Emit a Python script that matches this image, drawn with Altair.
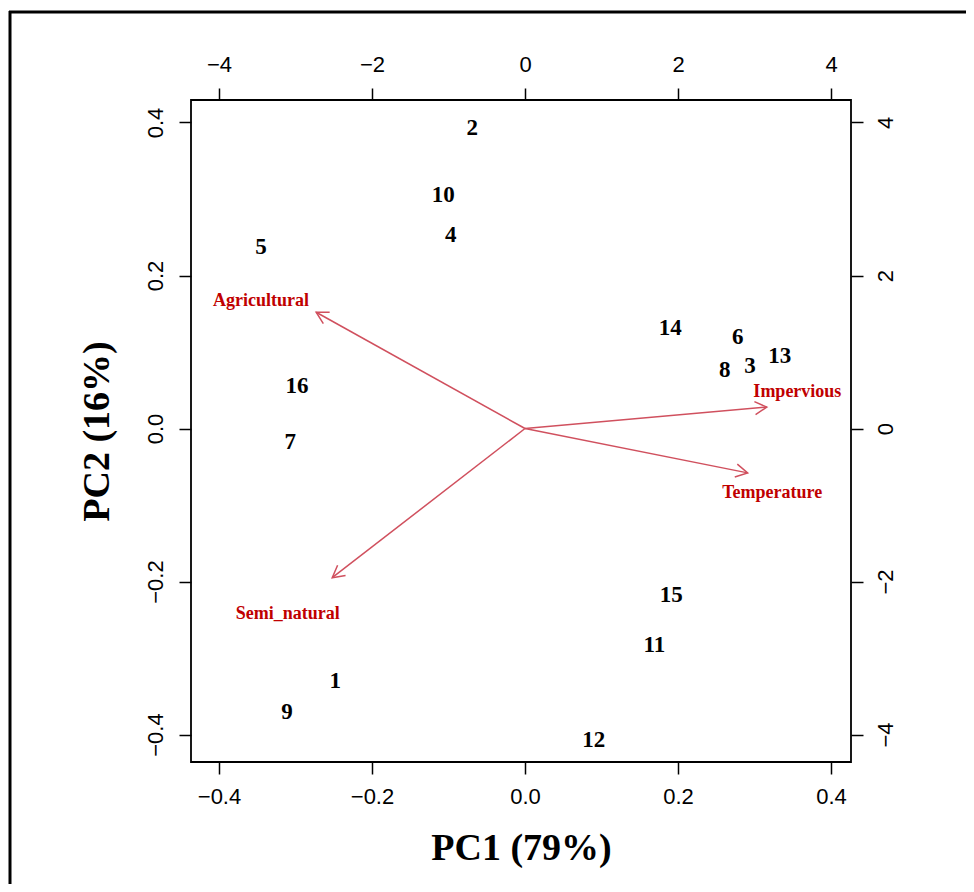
import altair as alt
import pandas as pd
import numpy as np

# ---- data ----
sample_ids = ["1", "2", "3", "4", "5", "6", "7", "8", "9", "10", "11", "12", "13", "14", "15", "16"]
score_pc1 = [-2.48, -0.69, 2.94, -0.97, -3.45, 2.78, -3.07, 2.61, -3.11, -1.07, 1.69, 0.90, 3.33, 1.90, 1.91, -2.98]
score_pc2 = [-3.30, 3.93, 0.82, 2.53, 2.37, 1.20, -0.18, 0.76, -3.71, 3.05, -2.83, -4.07, 0.95, 1.31, -2.17, 0.56]

variables = ["Impervious", "Temperature", "Agricultural", "Semi_natural"]
load_pc1 = [0.316, 0.291, -0.273, -0.252]
load_pc2 = [0.028, -0.058, 0.152, -0.195]
label_pc1 = [0.356, 0.323, -0.345, -0.310]
label_pc2 = [0.048, -0.084, 0.167, -0.242]

bottom_ticks = [-0.4, -0.2, 0.0, 0.2, 0.4]
left_ticks = [-0.4, -0.2, 0.0, 0.2, 0.4]
top_ticks = [-4, -2, 0, 2, 4]
right_ticks = [-4, -2, 0, 2, 4]

x_dom = [-0.4366, 0.4261]
y_dom = [-0.4359, 0.4294]
x_dom_top = [-4.366, 4.261]
y_dom_right = [-4.359, 4.294]

W, H = 660, 662
PAD = {"left": 183, "top": 92, "right": 115, "bottom": 122}

TICK_FONT = "Liberation Sans Narrow, Liberation Sans"
SERIF = "Liberation Serif"
ARROW_COL = "#D0505E"
VAR_COL = "#C00000"

scores = pd.DataFrame({"id": sample_ids, "pc1": score_pc1, "pc2": score_pc2})
loads = pd.DataFrame({
    "var": variables,
    "x0": 0.0, "y0": 0.0,
    "pc1": load_pc1, "pc2": load_pc2,
    "lx": label_pc1, "ly": label_pc2,
})
loads["angle"] = (np.degrees(np.arctan2(-loads["pc2"], loads["pc1"])) + 360) % 360

xs = alt.Scale(domain=x_dom, nice=False, zero=False)
ys = alt.Scale(domain=y_dom, nice=False, zero=False)
xs_t = alt.Scale(domain=x_dom_top, nice=False, zero=False)
ys_r = alt.Scale(domain=y_dom_right, nice=False, zero=False)

axis_common = dict(grid=False, domain=False, tickSize=12, tickWidth=1.5, tickColor="black",
                   labelFont=TICK_FONT, labelFontSize=22, labelColor="black", labelPadding=12)

x_axis = alt.Axis(orient="bottom", values=bottom_ticks, format=".1f", title="PC1 (79%)",
                  titleFont=SERIF, titleFontSize=38, titleFontWeight="bold", titleColor="black",
                  titlePadding=22, **axis_common)
y_axis = alt.Axis(orient="left", values=left_ticks, format=".1f", title="PC2 (16%)",
                  labelAngle=270, labelAlign="center", labelBaseline="bottom",
                  titleFont=SERIF, titleFontSize=38, titleFontWeight="bold", titleColor="black",
                  titlePadding=28, **axis_common)
x_axis_top = alt.Axis(orient="top", values=top_ticks, format="d", title=None, **axis_common)
y_axis_right = alt.Axis(orient="right", values=right_ticks, format="d", title=None,
                        labelAngle=270, labelAlign="center", labelBaseline="top", **axis_common)

arrow_lines = alt.Chart(loads).mark_rule(color=ARROW_COL, strokeWidth=1.5).encode(
    x=alt.X("x0:Q", scale=xs, axis=x_axis),
    y=alt.Y("y0:Q", scale=ys, axis=y_axis),
    x2="pc1:Q", y2="pc2:Q",
)
arrow_heads = alt.Chart(loads).mark_point(
    shape="M -1 -0.55 L 0 0 L -1 0.55", filled=False, color=ARROW_COL, strokeWidth=1.5,
    size=560, opacity=1,
).encode(
    x=alt.X("pc1:Q", scale=xs, axis=x_axis),
    y=alt.Y("pc2:Q", scale=ys, axis=y_axis),
    angle=alt.Angle("angle:Q", scale=None),
)
var_text = alt.Chart(loads).mark_text(
    font=SERIF, fontWeight="bold", fontSize=18, color=VAR_COL, align="center", baseline="middle",
).encode(
    x=alt.X("lx:Q", scale=xs, axis=x_axis),
    y=alt.Y("ly:Q", scale=ys, axis=y_axis),
    text="var:N",
)
arrows = alt.layer(arrow_lines, arrow_heads, var_text)

samples = alt.Chart(scores).mark_text(
    font=SERIF, fontWeight="bold", fontSize=23, color="black", align="center", baseline="middle",
).encode(
    x=alt.X("pc1:Q", scale=xs_t, axis=x_axis_top),
    y=alt.Y("pc2:Q", scale=ys_r, axis=y_axis_right),
    text="id:N",
)

one = pd.DataFrame({"k": [0]})
border_top = alt.Chart(one).mark_rule(color="black", strokeWidth=3).encode(
    x=alt.value(-182), x2=alt.value(W + PAD["right"]), y=alt.value(-88))
border_left = alt.Chart(one).mark_rule(color="black", strokeWidth=3).encode(
    x=alt.value(-181), y=alt.value(-89), y2=alt.value(H + PAD["bottom"]))

chart = alt.layer(arrows, samples, border_top, border_left).resolve_scale(
    x="independent", y="independent"
).properties(
    width=W, height=H,
    autosize=alt.AutoSizeParams(type="none"),
    padding=PAD,
    background="white",
).configure_view(stroke="black", strokeWidth=1.8)

chart.save("out.html", embed_options={"renderer": "svg", "actions": False})
